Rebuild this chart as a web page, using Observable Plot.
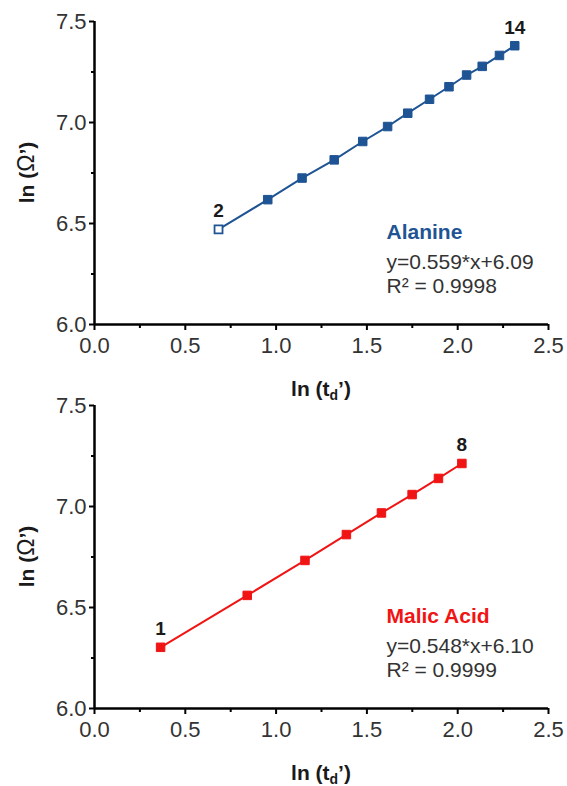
<!DOCTYPE html>
<html>
<head>
<meta charset="utf-8">
<script src="https://cdn.jsdelivr.net/npm/d3@7"></script>
<script src="https://cdn.jsdelivr.net/npm/@observablehq/plot@0.6"></script>
<style>
  html, body { margin: 0; padding: 0; background: #fff; }
  #wrap { position: relative; width: 567px; height: 786px; font-family: "Liberation Sans", Arial, sans-serif; }
  .panel { position: absolute; left: 0; width: 567px; }
</style>
</head>
<body>
<div id="wrap"></div>
<script>
// ---- data ----
const alanineN = [2, 3, 4, 5, 6, 7, 8, 9, 10, 11, 12, 13, 14];
const alanineX = [0.683, 0.954, 1.143, 1.320, 1.477, 1.614, 1.725, 1.845, 1.952, 2.049, 2.135, 2.230, 2.314];
const alanineY = [6.471, 6.618, 6.725, 6.815, 6.906, 6.980, 7.046, 7.115, 7.177, 7.235, 7.278, 7.332, 7.380];

const malicN = [1, 2, 3, 4, 5, 6, 7, 8];
const malicX = [0.364, 0.841, 1.159, 1.387, 1.580, 1.749, 1.894, 2.023];
const malicY = [6.303, 6.560, 6.733, 6.861, 6.968, 7.059, 7.139, 7.213];

const xTicks = [0, 0.5, 1.0, 1.5, 2.0, 2.5];
const xMinorTicks = [0.25, 0.75, 1.25, 1.75, 2.25];
const yTicks = [6.0, 6.5, 7.0, 7.5];
const yMinorTicks = [6.25, 6.75, 7.25];

const seriesNames = ["Alanine", "Malic Acid"];
const equations = ["y=0.559*x+6.09", "y=0.548*x+6.10"];
const r2Values = ["0.9998", "0.9999"];
const seriesColors = ["#1f5494", "#f01414"];

// ---- drawing ----
const FONT = "'Liberation Sans', Arial, sans-serif";
const wrap = document.getElementById("wrap");

function drawPanel(idx, n, xs, ys, openFirst, top, height, marginTop, marginBottom) {
  const color = seriesColors[idx];
  const data = n.map((v, i) => ({n: v, x: xs[i], y: ys[i], open: openFirst && i === 0}));
  const ends = [data[0], data[data.length - 1]];

  const plot = Plot.plot({
    width: 567,
    height,
    marginTop,
    marginBottom,
    marginLeft: 94,
    marginRight: 19,
    x: {domain: [0, 2.5], label: null},
    y: {domain: [6, 7.5], label: null},
    style: {background: "none", overflow: "visible", fontFamily: FONT, fontSize: "22px", color: "#333"},
    marks: [
      Plot.axisX({ticks: xMinorTicks, tickSize: 4, tickFormat: () => "", stroke: "#000", strokeWidth: 2, label: null}),
      Plot.axisX({ticks: xTicks, tickSize: 6, tickPadding: 7, tickFormat: d => d.toFixed(1), stroke: "#000", strokeWidth: 2, fill: "#333", fontSize: 22, label: null}),
      Plot.axisY({ticks: yMinorTicks, tickSize: 3, tickFormat: () => "", stroke: "#000", strokeWidth: 2, label: null}),
      Plot.axisY({ticks: yTicks, tickSize: 5, tickPadding: 3, tickFormat: d => d.toFixed(1), stroke: "#000", strokeWidth: 2, fill: "#333", fontSize: 22, label: null}),
      Plot.ruleX([0], {stroke: "#000", strokeWidth: 2.5}),
      Plot.ruleY([6], {stroke: "#000", strokeWidth: 2.5}),
      Plot.line(data, {x: "x", y: "y", stroke: color, strokeWidth: 2}),
      Plot.dot(data.filter(d => !d.open), {x: "x", y: "y", symbol: "square", r: 4.8, fill: color, stroke: color, strokeWidth: 1}),
      Plot.dot(data.filter(d => d.open), {x: "x", y: "y", symbol: "square", r: 4.5, fill: "white", stroke: color, strokeWidth: 1.8}),
      Plot.text(ends, {x: "x", y: "y", text: d => String(d.n), dy: -12, lineAnchor: "bottom", fontWeight: "bold", fontSize: 19, fill: "#1a1a1a"}),
      Plot.text([seriesNames[idx]], {frameAnchor: "bottom-left", text: d => d, textAnchor: "start", lineAnchor: "bottom", dx: 292, dy: -86, fontWeight: "bold", fontSize: 21, fill: color}),
      Plot.text([equations[idx]], {frameAnchor: "bottom-left", text: d => d, textAnchor: "start", lineAnchor: "bottom", dx: 292, dy: -56, fontSize: 21, fill: "#333"}),
      Plot.text(["R\u00B2 = " + r2Values[idx]], {frameAnchor: "bottom-left", text: d => d, textAnchor: "start", lineAnchor: "bottom", dx: 292, dy: -32, fontSize: 21, fill: "#333"})
    ]
  });

  const xr = plot.scale("x").range;
  const yr = plot.scale("y").range;
  const cx = (xr[0] + xr[1]) / 2;
  const cy = (yr[0] + yr[1]) / 2;
  const bottom = Math.max(yr[0], yr[1]);
  const svg = d3.select(plot);

  // x-axis title with subscript
  const xt = svg.append("text")
    .attr("x", cx).attr("y", bottom + 72)
    .attr("text-anchor", "middle")
    .attr("font-family", FONT).attr("font-weight", "bold").attr("font-size", 21).attr("fill", "#1a1a1a");
  xt.append("tspan").text("ln (t");
  xt.append("tspan").attr("font-size", 14).attr("dy", 4).text("d");
  xt.append("tspan").attr("dy", -4).text("\u2019)");

  // y-axis title
  const yt = svg.append("text")
    .attr("transform", `translate(34,${cy}) rotate(-90)`)
    .attr("text-anchor", "middle")
    .attr("font-family", FONT).attr("font-weight", "bold").attr("font-size", 21).attr("fill", "#1a1a1a");
  yt.append("tspan").text("ln (");
  yt.append("tspan").attr("font-weight", "normal").attr("font-size", 23).text("\u03A9");
  yt.append("tspan").text("\u2019)");

  const holder = document.createElement("div");
  holder.className = "panel";
  holder.style.top = top + "px";
  holder.appendChild(plot);
  wrap.appendChild(holder);
}

drawPanel(0, alanineN, alanineX, alanineY, true, 0, 393, 21, 69);
drawPanel(1, malicN, malicX, malicY, false, 393, 393, 12, 78);
</script>
</body>
</html>
